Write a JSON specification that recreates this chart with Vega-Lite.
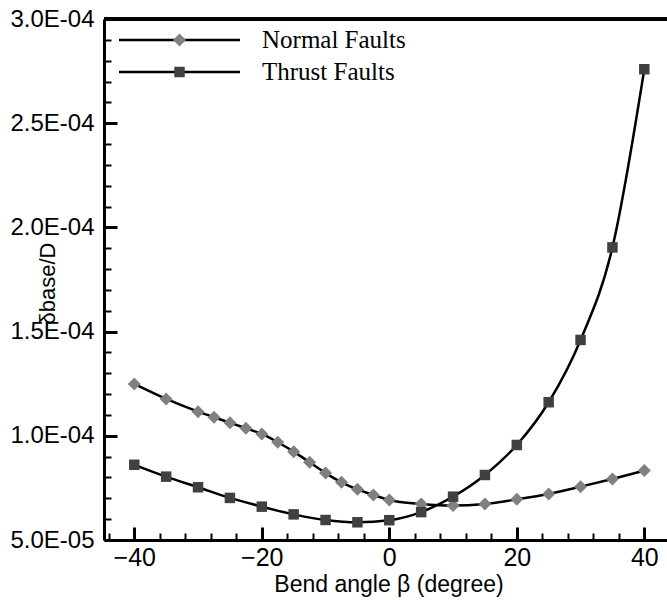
{
  "$schema": "https://vega.github.io/schema/vega-lite/v6.json",
  "width": 563,
  "height": 521,
  "autosize": {"type": "none"},
  "padding": {"left": 104, "top": 19, "right": 0, "bottom": 60},
  "background": "white",
  "config": {"view": {"stroke": null}, "font": "Liberation Sans"},
  "data": {
    "values": [
      {"beta": -40, "ratio": 0.0001249, "series": "Normal Faults"},
      {"beta": -35, "ratio": 0.0001177, "series": "Normal Faults"},
      {"beta": -30, "ratio": 0.0001116, "series": "Normal Faults"},
      {"beta": -27.5, "ratio": 0.0001089, "series": "Normal Faults"},
      {"beta": -25, "ratio": 0.0001063, "series": "Normal Faults"},
      {"beta": -22.5, "ratio": 0.0001036, "series": "Normal Faults"},
      {"beta": -20, "ratio": 0.0001009, "series": "Normal Faults"},
      {"beta": -17.5, "ratio": 0.0000969, "series": "Normal Faults"},
      {"beta": -15, "ratio": 0.0000924, "series": "Normal Faults"},
      {"beta": -12.5, "ratio": 0.0000873, "series": "Normal Faults"},
      {"beta": -10, "ratio": 0.0000821, "series": "Normal Faults"},
      {"beta": -7.5, "ratio": 0.0000777, "series": "Normal Faults"},
      {"beta": -5, "ratio": 0.0000743, "series": "Normal Faults"},
      {"beta": -2.5, "ratio": 0.0000716, "series": "Normal Faults"},
      {"beta": 0, "ratio": 0.0000692, "series": "Normal Faults"},
      {"beta": 5, "ratio": 0.0000673, "series": "Normal Faults"},
      {"beta": 10, "ratio": 0.0000665, "series": "Normal Faults"},
      {"beta": 15, "ratio": 0.0000673, "series": "Normal Faults"},
      {"beta": 20, "ratio": 0.0000695, "series": "Normal Faults"},
      {"beta": 25, "ratio": 0.0000721, "series": "Normal Faults"},
      {"beta": 30, "ratio": 0.0000756, "series": "Normal Faults"},
      {"beta": 35, "ratio": 0.0000793, "series": "Normal Faults"},
      {"beta": 40, "ratio": 0.0000833, "series": "Normal Faults"},
      {"beta": -40, "ratio": 0.0000861, "series": "Thrust Faults"},
      {"beta": -35, "ratio": 0.0000804, "series": "Thrust Faults"},
      {"beta": -30, "ratio": 0.0000753, "series": "Thrust Faults"},
      {"beta": -25, "ratio": 0.0000702, "series": "Thrust Faults"},
      {"beta": -20, "ratio": 0.0000660, "series": "Thrust Faults"},
      {"beta": -15, "ratio": 0.0000623, "series": "Thrust Faults"},
      {"beta": -10, "ratio": 0.0000596, "series": "Thrust Faults"},
      {"beta": -5, "ratio": 0.0000585, "series": "Thrust Faults"},
      {"beta": 0, "ratio": 0.0000595, "series": "Thrust Faults"},
      {"beta": 5, "ratio": 0.0000634, "series": "Thrust Faults"},
      {"beta": 10, "ratio": 0.0000708, "series": "Thrust Faults"},
      {"beta": 15, "ratio": 0.0000812, "series": "Thrust Faults"},
      {"beta": 20, "ratio": 0.0000956, "series": "Thrust Faults"},
      {"beta": 25, "ratio": 0.0001161, "series": "Thrust Faults"},
      {"beta": 30, "ratio": 0.000146, "series": "Thrust Faults"},
      {"beta": 35, "ratio": 0.0001904, "series": "Thrust Faults"},
      {"beta": 40, "ratio": 0.0002759, "series": "Thrust Faults"}
    ]
  },
  "resolve": {"axis": {"x": "independent", "y": "independent"}},
  "layer": [
    {
      "mark": {"type": "line", "interpolate": "monotone", "strokeWidth": 2.5},
      "encoding": {
        "x": {
          "field": "beta", "type": "quantitative",
          "scale": {"domain": [-44.75, 43.56], "nice": false, "zero": false},
          "axis": {
            "orient": "bottom",
            "values": [-40, -20, 0, 20, 40],
            "tickSize": -13,
            "tickWidth": 3,
            "tickColor": "black",
            "domainColor": "black",
            "domainWidth": 3,
            "grid": false,
            "labelFontSize": 25,
            "labelColor": "black",
            "labelPadding": 38,
            "labelBaseline": "alphabetic",
            "labelFlush": false,
            "labelOverlap": false,
            "title": "Bend angle β (degree)",
            "titleFontSize": 23,
            "titleFontWeight": "normal",
            "titleColor": "black",
            "titleX": 284.5,
            "titleY": 51,
            "titleBaseline": "alphabetic",
            "titleAlign": "center"
          }
        },
        "y": {
          "field": "ratio", "type": "quantitative",
          "scale": {"domain": [0.00005, 0.0003], "nice": false, "zero": false},
          "axis": {
            "orient": "left",
            "values": [0.00005, 0.0001, 0.00015, 0.0002, 0.00025, 0.0003],
            "labelExpr": "datum.value < 0.0000999 ? format(datum.value*100000, '.1f') + 'E-05' : format(datum.value*10000, '.1f') + 'E-04'",
            "tickSize": -13,
            "tickWidth": 3,
            "tickColor": "black",
            "domainColor": "black",
            "domainWidth": 3,
            "grid": false,
            "labelFontSize": 24,
            "labelColor": "black",
            "labelPadding": 23,
            "labelOverlap": false,
            "labelFlush": false,
            "title": "δbase/D",
            "titleFontSize": 22,
            "titleFontWeight": "normal",
            "titleColor": "black",
            "titleX": -57,
            "titleY": 264,
            "titleAngle": -90,
            "titleBaseline": "middle",
            "titleAlign": "center"
          }
        },
        "stroke": {
          "field": "series", "type": "nominal",
          "scale": {"range": ["black", "black"]},
          "legend": {
            "orient": "none", "legendX": 13.5, "legendY": 5, "title": null,
            "symbolType": "stroke", "symbolSize": 14641, "symbolStrokeWidth": 2.5,
            "clipHeight": 32, "rowPadding": 0, "padding": 0,
            "labelFont": "Liberation Serif", "labelFontSize": 25, "labelColor": "black",
            "labelOffset": 20.5, "labelLimit": 400, "zindex": 1
          }
        }
      }
    },
    {
      "mark": {"type": "point", "filled": true, "opacity": 1, "strokeWidth": 0},
      "encoding": {
        "x": {
          "field": "beta", "type": "quantitative",
          "axis": {
            "orient": "bottom",
            "values": [-44, -36, -32, -28, -24, -16, -12, -8, -4, 4, 8, 12, 16, 24, 28, 32, 36],
            "tickSize": -7, "tickWidth": 2, "tickColor": "black",
            "labels": false, "domain": false, "grid": false, "title": null
          }
        },
        "y": {
          "field": "ratio", "type": "quantitative",
          "axis": {
            "orient": "left",
            "values": [0.00006, 0.00007, 0.00008, 0.00009, 0.00011, 0.00012, 0.00013, 0.00014, 0.00016, 0.00017, 0.00018, 0.00019, 0.00021, 0.00022, 0.00023, 0.00024, 0.00026, 0.00027, 0.00028, 0.00029],
            "tickSize": -7, "tickWidth": 2, "tickColor": "black",
            "labels": false, "domain": false, "grid": false, "title": null
          }
        },
        "fill": {
          "field": "series", "type": "nominal",
          "scale": {"range": ["#808080", "#404040"]},
          "legend": {"orient": "none", "legendX": 69, "legendY": 5, "title": null, "clipHeight": 32, "rowPadding": 0, "padding": 0, "labelOpacity": 0, "symbolStrokeWidth": 0, "symbolOpacity": 1, "zindex": 2}
        },
        "shape": {
          "field": "series", "type": "nominal",
          "scale": {"range": ["diamond", "square"]},
          "legend": {"orient": "none", "legendX": 69, "legendY": 5, "title": null, "clipHeight": 32, "rowPadding": 0, "padding": 0, "labelOpacity": 0, "symbolStrokeWidth": 0, "symbolOpacity": 1, "zindex": 2}
        },
        "size": {
          "field": "series", "type": "nominal",
          "scale": {"range": [169, 110]},
          "legend": {"orient": "none", "legendX": 69, "legendY": 5, "title": null, "clipHeight": 32, "rowPadding": 0, "padding": 0, "labelOpacity": 0, "symbolStrokeWidth": 0, "symbolOpacity": 1, "zindex": 2}
        }
      }
    },
    {
      "mark": {"type": "rule", "strokeWidth": 3, "color": "black"},
      "encoding": {"y": {"datum": 0.0003, "type": "quantitative", "axis": null}}
    }
  ]
}
